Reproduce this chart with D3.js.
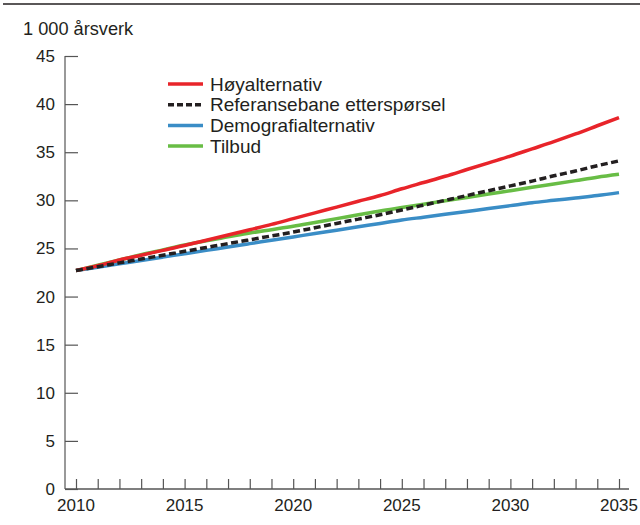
<!DOCTYPE html>
<html><head><meta charset="utf-8">
<script src="https://cdn.jsdelivr.net/npm/d3@7"></script>
<style>body{margin:0;background:#fff}text{font-family:"Liberation Sans",Arial,sans-serif;fill:#231f20}</style>
</head><body><svg id="c" width="640" height="525"></svg>
<script>
const years = d3.range(2010, 2036);
const hoy = [22.7,23.2,23.8,24.3,24.8,25.3,25.85,26.4,26.95,27.5,28.1,28.7,29.3,29.9,30.5,31.2,31.85,32.5,33.2,33.9,34.6,35.35,36.1,36.9,37.75,38.6];
const ref = [22.7,23.1,23.5,23.9,24.3,24.7,25.1,25.5,25.9,26.3,26.7,27.15,27.6,28.05,28.5,29.0,29.5,30.0,30.5,31.0,31.5,32.0,32.55,33.05,33.6,34.1];
const demo = [22.7,23.05,23.4,23.75,24.1,24.45,24.8,25.15,25.5,25.85,26.2,26.55,26.9,27.25,27.6,27.95,28.25,28.55,28.85,29.15,29.45,29.75,30.0,30.25,30.5,30.8];
const tilbud = [22.7,23.25,23.8,24.35,24.85,25.35,25.8,26.2,26.6,26.95,27.3,27.7,28.1,28.5,28.9,29.25,29.6,29.95,30.3,30.65,31.0,31.35,31.7,32.05,32.4,32.7];
const seriesNames = ["Høyalternativ","Referansebane etterspørsel","Demografialternativ","Tilbud"];
const seriesColors = ["#e8242a","#231f20","#3a8dc6","#68bd45"];
const yTicks = [0,5,10,15,20,25,30,35,40,45];
const xTickLabels = [2010,2015,2020,2025,2030,2035];
const unitLabel = "1 000 årsverk";

const svg = d3.select("#c");
const x = d3.scaleLinear().domain([2010,2035]).range([76,619]);
const y = d3.scaleLinear().domain([0,45]).range([489,56]);

svg.append("line").attr("x1",3).attr("x2",640).attr("y1",4).attr("y2",4).attr("stroke","#231f20").attr("stroke-width",1.5);
svg.append("text").attr("x",23).attr("y",35).attr("font-size",18.2).text(unitLabel);

// y axis
const ya = svg.append("g").attr("transform","translate(65,0)")
  .call(d3.axisRight(y).tickValues(yTicks).tickSize(13).tickFormat(""));
ya.select(".domain").remove();
ya.selectAll(".tick line").attr("stroke","#555").attr("stroke-width",1.2);
svg.append("line").attr("x1",65).attr("x2",65).attr("y1",56).attr("y2",489).attr("stroke","#555").attr("stroke-width",1.2);
svg.selectAll(".ylab").data(yTicks).join("text").attr("class","ylab")
  .attr("x",55).attr("y",d=>y(d)+6).attr("text-anchor","end").attr("font-size",17).text(d=>d);

// x axis
const xa = svg.append("g").attr("transform","translate(0,489)")
  .call(d3.axisTop(x).tickValues(years).tickSize(10).tickFormat(""));
xa.select(".domain").remove();
xa.selectAll(".tick line").attr("stroke","#555").attr("stroke-width",1.2);
svg.append("line").attr("x1",65).attr("x2",629).attr("y1",489).attr("y2",489).attr("stroke","#555").attr("stroke-width",1.5);
svg.selectAll(".xlab").data(xTickLabels).join("text").attr("class","xlab")
  .attr("x",d=>x(d)).attr("y",511).attr("text-anchor","middle").attr("font-size",17).text(d=>d);

const all = [hoy, ref, demo, tilbud];
const line = d3.line().x((d,i)=>x(years[i])).y(d=>y(d)).curve(d3.curveMonotoneX);
const order = [2,3,0,1];
order.forEach(k=>{
  svg.append("path").attr("d",line(all[k])).attr("fill","none")
    .attr("stroke",seriesColors[k]).attr("stroke-width",3.5)
    .attr("stroke-dasharray", k===1 ? "7,3.5" : null);
});

// legend
const lg = svg.append("g");
seriesNames.forEach((n,i)=>{
  const yy = 84 + i*20.7;
  lg.append("line").attr("x1",168).attr("x2",203).attr("y1",yy).attr("y2",yy)
    .attr("stroke",seriesColors[i]).attr("stroke-width",3.5)
    .attr("stroke-dasharray", i===1 ? "6,3" : null);
  lg.append("text").attr("x",210).attr("y",yy+6.5).attr("font-size",19).text(n);
});
</script></body></html>
